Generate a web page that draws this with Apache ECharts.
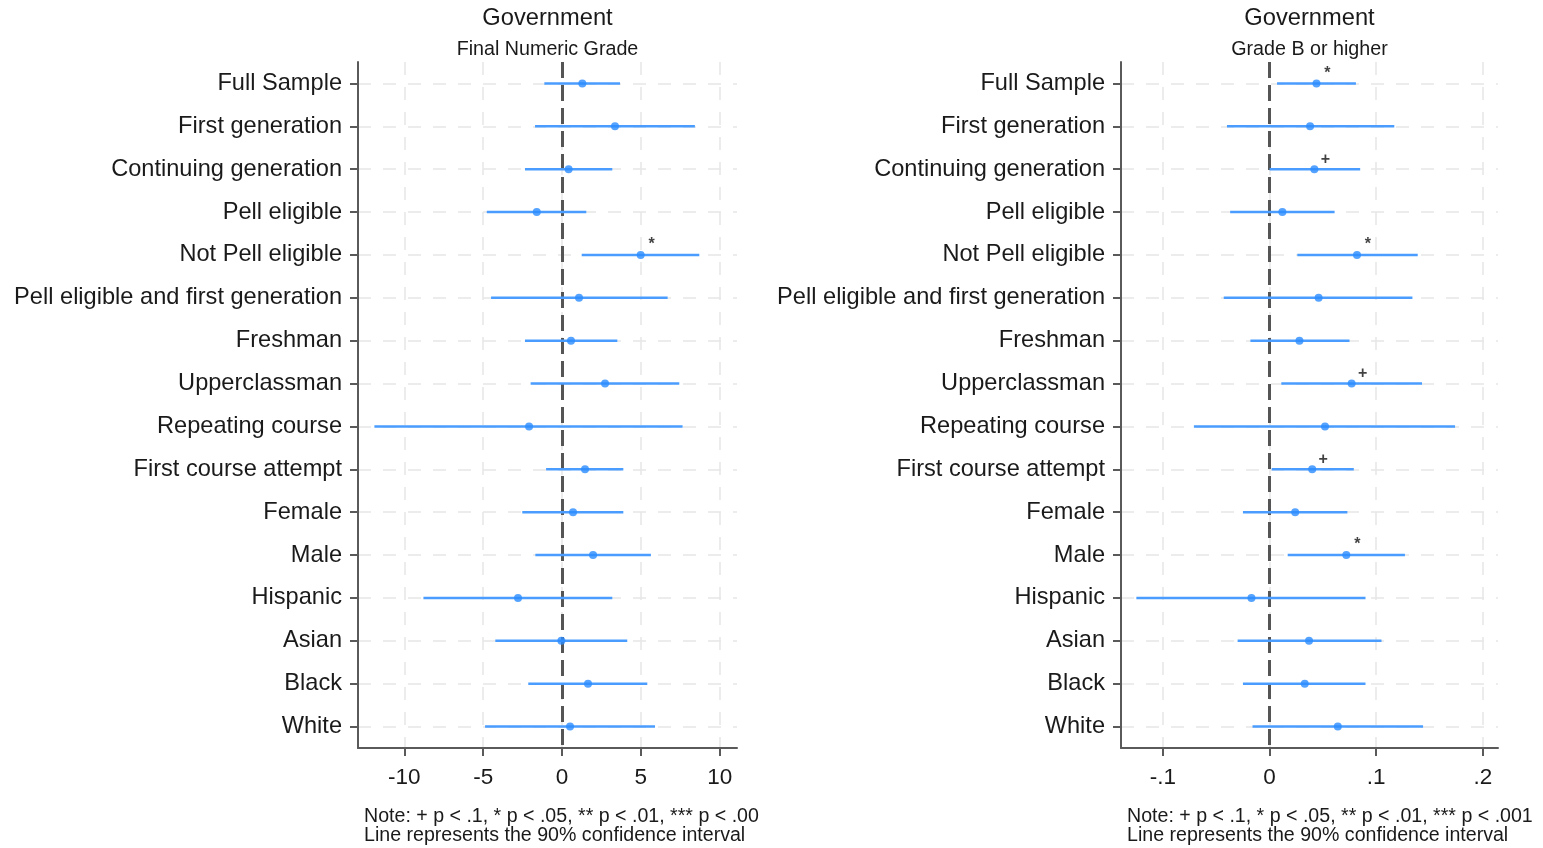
<!DOCTYPE html>
<html>
<head>
<meta charset="utf-8">
<script src="https://cdn.jsdelivr.net/npm/echarts@6/dist/echarts.min.js"></script>
<style>
html,body{margin:0;padding:0;background:#fff;}
#chart{width:1543px;height:848px;}
</style>
</head>
<body>
<div id="chart"></div>
<script>
const categories = ['Full Sample','First generation','Continuing generation','Pell eligible','Not Pell eligible','Pell eligible and first generation','Freshman','Upperclassman','Repeating course','First course attempt','Female','Male','Hispanic','Asian','Black','White'];

const leftPoint = [1.29, 3.36, 0.42, -1.6, 4.99, 1.08, 0.57, 2.73, -2.09, 1.46, 0.70, 1.97, -2.79, -0.04, 1.65, 0.51];
const leftLow   = [-1.12, -1.71, -2.35, -4.77, 1.25, -4.5, -2.35, -1.99, -11.9, -1.01, -2.52, -1.69, -8.79, -4.23, -2.14, -4.88];
const leftHigh  = [3.68, 8.43, 3.19, 1.54, 8.71, 6.70, 3.51, 7.44, 7.65, 3.89, 3.89, 5.64, 3.19, 4.14, 5.41, 5.90];
const leftSig   = ['', '', '', '', '*', '', '', '', '', '', '', '', '', '', '', ''];

const rightPoint = [0.044, 0.038, 0.042, 0.012, 0.082, 0.046, 0.028, 0.077, 0.052, 0.040, 0.024, 0.072, -0.017, 0.037, 0.033, 0.064];
const rightLow   = [0.007, -0.040, 0.000, -0.037, 0.026, -0.043, -0.018, 0.011, -0.071, 0.002, -0.025, 0.017, -0.125, -0.030, -0.025, -0.016];
const rightHigh  = [0.081, 0.117, 0.085, 0.061, 0.139, 0.134, 0.075, 0.143, 0.174, 0.079, 0.073, 0.127, 0.090, 0.105, 0.090, 0.144];
const rightSig   = ['*', '', '+', '', '*', '', '', '+', '', '+', '', '*', '', '', '', ''];

const leftTicks = [-10, -5, 0, 5, 10];
const leftTickLabels = ['-10', '-5', '0', '5', '10'];
const rightTicks = [-0.1, 0, 0.1, 0.2];
const rightTickLabels = ['-.1', '0', '.1', '.2'];

const titles = ['Government', 'Government'];
const subtitles = ['Final Numeric Grade', 'Grade B or higher'];
const noteLine1 = ['Note: + p < .1, * p < .05, ** p < .01, *** p < .00', 'Note: + p < .1, * p < .05, ** p < .01, *** p < .001'];
const noteLine2 = 'Line represents the 90% confidence interval';

const FONT = "'Liberation Sans', Arial, sans-serif";
const TXT = '#1a1a1a';
const BLUE = '#2a8cff';
const CI = '#4a9dff';

const panels = [
  {left: 358, width: 379, min: -12.94, max: 11.1, ticks: leftTicks, labels: leftTickLabels, point: leftPoint, low: leftLow, high: leftHigh, sig: leftSig},
  {left: 1121, width: 377, min: -0.1394, max: 0.2143, ticks: rightTicks, labels: rightTickLabels, point: rightPoint, low: rightLow, high: rightHigh, sig: rightSig}
];
const TOP = 62, HEIGHT = 686;

const grid = [], xAxis = [], yAxis = [], series = [], graphic = [];
panels.forEach((p, i) => {
  grid.push({left: p.left, top: TOP, width: p.width, height: HEIGHT, containLabel: false});
  xAxis.push({
    type: 'value', gridIndex: i, min: p.min, max: p.max, z: 20,
    axisLine: {show: true, onZero: false, lineStyle: {color: '#5a5a5a', width: 2}},
    axisTick: {show: true, length: 8, customValues: p.ticks, lineStyle: {color: '#5a5a5a', width: 2}},
    axisLabel: {show: true, customValues: p.ticks, margin: 18, fontSize: 22.5, color: TXT, fontFamily: FONT,
      formatter: v => { const k = p.ticks.findIndex(t => Math.abs(t - v) < 1e-9); return k >= 0 ? p.labels[k] : ''; }},
    splitLine: {show: false}
  });
  yAxis.push({
    type: 'category', gridIndex: i, data: categories, inverse: true, z: 20, position: 'left',
    axisLine: {show: true, onZero: false, lineStyle: {color: '#5a5a5a', width: 2}},
    axisTick: {show: true, alignWithLabel: true, length: 8, lineStyle: {color: '#5a5a5a', width: 2}},
    axisLabel: {interval: 0, margin: 16, fontSize: 23.6, color: TXT, fontFamily: FONT},
    splitLine: {show: false}
  });
  // gridlines
  series.push({
    type: 'scatter', xAxisIndex: i, yAxisIndex: i, data: [], silent: true, z: 1,
    markLine: {
      z: 1, silent: true, symbol: 'none', label: {show: false}, animation: false,
      lineStyle: {color: '#e6e6e6', width: 1.5, type: [13, 12]},
      data: categories.map(c => ({yAxis: c})).concat(p.ticks.map(t => ({xAxis: t})))
    }
  });
  // zero reference line
  series.push({
    type: 'scatter', xAxisIndex: i, yAxisIndex: i, data: [], silent: true, z: 2,
    markLine: {
      z: 2, silent: true, symbol: 'none', label: {show: false}, animation: false,
      lineStyle: {color: '#555555', width: 3, type: [16, 7]},
      data: [{xAxis: 0}]
    }
  });
  // confidence intervals
  series.push({
    type: 'custom', xAxisIndex: i, yAxisIndex: i, z: 10, animation: false,
    data: categories.map((c, k) => [p.low[k], p.high[k], k]),
    renderItem: (params, api) => {
      const a = api.coord([api.value(0), api.value(2)]);
      const b = api.coord([api.value(1), api.value(2)]);
      return {type: 'line', shape: {x1: a[0], y1: a[1], x2: b[0], y2: b[1]}, style: {stroke: CI, lineWidth: 2.5}};
    }
  });
  // point estimates
  series.push({
    type: 'scatter', xAxisIndex: i, yAxisIndex: i, z: 11, animation: false,
    symbol: 'circle', symbolSize: 8, itemStyle: {color: BLUE},
    data: categories.map((c, k) => [p.point[k], k]),
    label: {
      show: true, position: 'inside', offset: [11, -10], fontSize: 16, fontWeight: 'bold', color: '#111', fontFamily: FONT,
      formatter: prm => p.sig[prm.dataIndex]
    }
  });
  const cx = p.left + p.width / 2;
  graphic.push({type: 'text', style: {text: titles[i], x: cx, y: 18, textAlign: 'center', textVerticalAlign: 'middle', fontSize: 23.7, fontFamily: FONT, fill: TXT}});
  graphic.push({type: 'text', style: {text: subtitles[i], x: cx, y: 50, textAlign: 'center', textVerticalAlign: 'middle', fontSize: 19.7, fontFamily: FONT, fill: TXT}});
  graphic.push({type: 'text', style: {text: noteLine1[i], x: p.left + 6, y: 817, textAlign: 'left', textVerticalAlign: 'middle', fontSize: 19.6, fontFamily: FONT, fill: TXT}});
  graphic.push({type: 'text', style: {text: noteLine2, x: p.left + 6, y: 835.5, textAlign: 'left', textVerticalAlign: 'middle', fontSize: 19.6, fontFamily: FONT, fill: TXT}});
});

const chart = echarts.init(document.getElementById('chart'), null, {renderer: 'canvas'});
chart.setOption({
  animation: false,
  backgroundColor: '#ffffff',
  grid, xAxis, yAxis, series, graphic
});
</script>
</body>
</html>
